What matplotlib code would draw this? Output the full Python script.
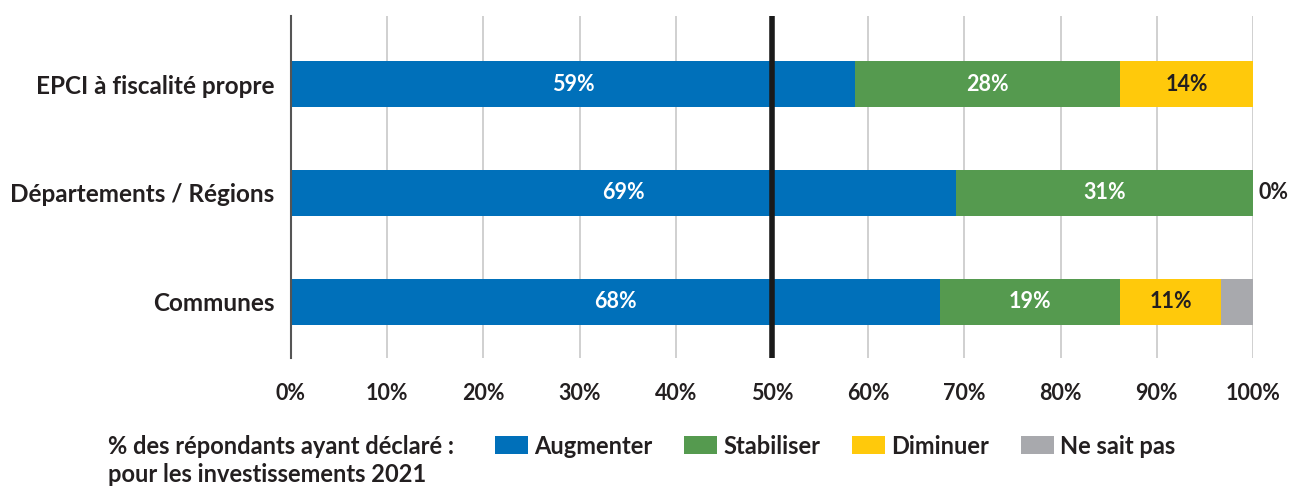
import matplotlib
matplotlib.use("Agg")
import matplotlib.pyplot as plt
from matplotlib.patches import Patch
import numpy as np

categories = ["Communes", "Départements / Régions", "EPCI à fiscalité propre"]
series_names = ["Augmenter", "Stabiliser", "Diminuer", "Ne sait pas"]
augmenter = [67.5, 69.1, 58.6]
stabiliser = [18.7, 30.9, 27.6]
diminuer = [10.5, 0.0, 13.8]
ne_sait_pas = [3.3, 0.0, 0.0]
labels_aug = ["68%", "69%", "59%"]
labels_stab = ["19%", "31%", "28%"]
labels_dim = ["11%", "0%", "14%"]
xticks = [0, 10, 20, 30, 40, 50, 60, 70, 80, 90, 100]
xticklabels = ["0%", "10%", "20%", "30%", "40%", "50%", "60%", "70%", "80%", "90%", "100%"]

colors = ["#0070BA", "#559A4F", "#FFC90B", "#A8A9AD"]
dark = "#231F20"

plt.rcParams['font.family'] = ['Lato', 'DejaVu Sans']

fig = plt.figure(figsize=(12.93, 4.88), dpi=100)
ax = fig.add_axes([291/1293, 1-358/488, (1253-291)/1293, (358-16)/488])

y = np.arange(len(categories))
h = 0.42
series = [augmenter, stabiliser, diminuer, ne_sait_pas]
left = np.zeros(len(categories))
for vals, c in zip(series, colors):
    ax.barh(y, vals, left=left, height=h, color=c, zorder=2)
    left = left + np.array(vals)

lab_fs = 15.5
for i in range(len(categories)):
    a, s, d = augmenter[i], stabiliser[i], diminuer[i]
    ax.text(a/2, y[i], labels_aug[i], ha='center', va='center', color='white',
            fontsize=lab_fs, fontweight='bold', zorder=4)
    ax.text(a + s/2, y[i], labels_stab[i], ha='center', va='center', color='white',
            fontsize=lab_fs, fontweight='bold', zorder=4)
    if d > 0:
        ax.text(a + s + d/2, y[i], labels_dim[i], ha='center', va='center', color=dark,
                fontsize=lab_fs, fontweight='bold', zorder=4)
    else:
        ax.text(a + s + d + 0.6, y[i], labels_dim[i], ha='left', va='center', color=dark,
                fontsize=lab_fs, fontweight='bold', zorder=4)

ax.set_xlim(0, 100)
ax.set_ylim(-0.514, 2.624)
ax.set_xticks(xticks)
ax.set_xticklabels(xticklabels, fontsize=15.5, fontweight='bold', color=dark)
ax.set_yticks(y)
ax.set_yticklabels(categories, fontsize=17.5, fontweight='bold', color=dark)
ax.tick_params(axis='both', length=0)
ax.tick_params(axis='x', pad=18)
ax.tick_params(axis='y', pad=12)
ax.xaxis.grid(True, color='#C8C8C8', linewidth=1.2, zorder=0)
ax.set_axisbelow(True)
for sp in ['top', 'right', 'bottom']:
    ax.spines[sp].set_visible(False)
ax.spines['left'].set_color('#555555')
ax.spines['left'].set_linewidth(1.5)
ax.axvline(50, color='#1a1a1a', linewidth=4, zorder=3)

leg_fs = 17
fig.text(108/1293, 1-446/488, "% des répondants ayant déclaré :", ha='left', va='center',
         fontsize=leg_fs, fontweight='bold', color=dark)
fig.text(108/1293, 1-475/488, "pour les investissements 2021", ha='left', va='center',
         fontsize=leg_fs, fontweight='bold', color=dark)
handles = [Patch(facecolor=c, label=n) for c, n in zip(colors, series_names)]
leg = fig.legend(handles=handles, loc='center left', bbox_to_anchor=(495/1293, 1-446/488),
                 ncol=4, frameon=False, fontsize=leg_fs, handlelength=1.4, handleheight=0.8,
                 handletextpad=0.25, columnspacing=1.35, borderaxespad=0, borderpad=0)
for t in leg.get_texts():
    t.set_fontweight('bold')
    t.set_color(dark)

fig.savefig("out.png", dpi=100)
